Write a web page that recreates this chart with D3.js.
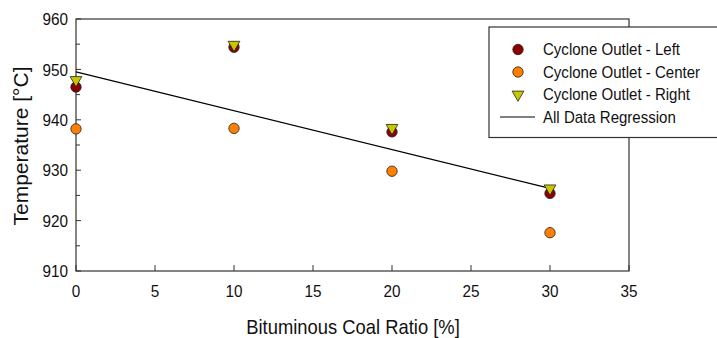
<!DOCTYPE html>
<html>
<head>
<meta charset="utf-8">
<script src="https://cdn.jsdelivr.net/npm/d3@7"></script>
<style>
  html, body { margin: 0; padding: 0; background: #fff; }
  svg { display: block; }
  text { font-family: "Liberation Sans", Arial, sans-serif; fill: #111; }
</style>
</head>
<body>
<svg id="chart" width="717" height="338"></svg>
<script>
const ratios = [0, 10, 20, 30];
const leftTemps = [946.5, 954.4, 937.6, 925.4];
const centerTemps = [938.2, 938.3, 929.8, 917.6];
const rightTemps = [947.9, 954.9, 938.4, 926.4];
const xTicks = [0, 5, 10, 15, 20, 25, 30, 35];
const yTicks = [910, 920, 930, 940, 950, 960];
const yMinorTicks = [915, 925, 935, 945, 955];
const seriesNames = ["Cyclone Outlet - Left", "Cyclone Outlet - Center", "Cyclone Outlet - Right"];
const regressionName = "All Data Regression";

const W = 717, H = 338;
const m = { left: 76, top: 19, right: 88, bottom: 67 };
const pw = W - m.left - m.right;  // 553
const ph = H - m.top - m.bottom;  // 252

const svg = d3.select("#chart");
const x = d3.scaleLinear().domain([0, 35]).range([m.left, m.left + pw]);
const y = d3.scaleLinear().domain([910, 960]).range([m.top + ph, m.top]);

const axisColor = "#333";

// frame
svg.append("rect")
  .attr("x", m.left).attr("y", m.top).attr("width", pw).attr("height", ph)
  .attr("fill", "none").attr("stroke", axisColor).attr("stroke-width", 1.2);

// y ticks (inward)
const gy = svg.append("g");
gy.selectAll("line.maj").data(yTicks).enter().append("line")
  .attr("x1", m.left).attr("x2", m.left + 5)
  .attr("y1", d => y(d)).attr("y2", d => y(d))
  .attr("stroke", axisColor);
gy.selectAll("line.min").data(yMinorTicks).enter().append("line")
  .attr("x1", m.left).attr("x2", m.left + 4)
  .attr("y1", d => y(d)).attr("y2", d => y(d))
  .attr("stroke", axisColor);
gy.selectAll("text").data(yTicks).enter().append("text")
  .attr("transform", d => `translate(${m.left - 8},${y(d)}) scale(0.9,1)`)
  .attr("dy", "0.36em")
  .attr("text-anchor", "end")
  .attr("font-size", 17)
  .text(d => d);

// x ticks (inward)
const gx = svg.append("g");
gx.selectAll("line").data(xTicks).enter().append("line")
  .attr("x1", d => x(d)).attr("x2", d => x(d))
  .attr("y1", m.top + ph).attr("y2", m.top + ph - 6)
  .attr("stroke", axisColor);
gx.selectAll("text").data(xTicks).enter().append("text")
  .attr("transform", d => `translate(${x(d)},297) scale(0.9,1)`)
  .attr("text-anchor", "middle")
  .attr("font-size", 17)
  .text(d => d);

// axis titles
svg.append("text")
  .attr("transform", "translate(353,334) scale(0.92,1)")
  .attr("text-anchor", "middle")
  .attr("font-size", 20)
  .text("Bituminous Coal Ratio [%]");

svg.append("text")
  .attr("transform", "translate(28,146) rotate(-90)")
  .attr("text-anchor", "middle")
  .attr("font-size", 21)
  .text("Temperature [°C]");

// regression over all data
const allPts = [];
ratios.forEach((r, i) => {
  allPts.push([r, leftTemps[i]], [r, centerTemps[i]], [r, rightTemps[i]]);
});
const mx = d3.mean(allPts, d => d[0]);
const my = d3.mean(allPts, d => d[1]);
const slope = d3.sum(allPts, d => (d[0] - mx) * (d[1] - my)) / d3.sum(allPts, d => (d[0] - mx) ** 2);
const intercept = my - slope * mx;
const xr = d3.extent(ratios);
svg.append("line")
  .attr("x1", x(xr[0])).attr("y1", y(intercept + slope * xr[0]))
  .attr("x2", x(xr[1])).attr("y2", y(intercept + slope * xr[1]))
  .attr("stroke", "#000").attr("stroke-width", 1.2);

const colors = ["#8B0000", "#FF8000", "#C8C800"];

// series markers
const gm = svg.append("g");
[leftTemps, centerTemps].forEach((vals, s) => {
  gm.selectAll(null).data(vals).enter().append("circle")
    .attr("cx", (d, i) => x(ratios[i])).attr("cy", d => y(d))
    .attr("r", 5.2)
    .attr("fill", colors[s]).attr("stroke", "#222").attr("stroke-width", 0.8);
});
const tri = d3.symbol(d3.symbolTriangle, 60);
gm.selectAll(null).data(rightTemps).enter().append("path")
  .attr("d", tri)
  .attr("transform", (d, i) => `translate(${x(ratios[i])},${y(d)}) rotate(180)`)
  .attr("fill", colors[2]).attr("stroke", "#222").attr("stroke-width", 0.8);

// legend
const lg = svg.append("g");
lg.append("rect")
  .attr("x", 489).attr("y", 27).attr("width", 240).attr("height", 110.5)
  .attr("fill", "#fff").attr("stroke", axisColor).attr("stroke-width", 1.2);
const rowY = [49.5, 72, 94.5, 117];
const mxL = 518, txL = 543;
lg.append("circle").attr("cx", mxL).attr("cy", rowY[0]).attr("r", 5.2)
  .attr("fill", colors[0]).attr("stroke", "#222").attr("stroke-width", 0.8);
lg.append("circle").attr("cx", mxL).attr("cy", rowY[1]).attr("r", 5.2)
  .attr("fill", colors[1]).attr("stroke", "#222").attr("stroke-width", 0.8);
lg.append("path").attr("d", tri)
  .attr("transform", `translate(${mxL},${rowY[2]}) rotate(180)`)
  .attr("fill", colors[2]).attr("stroke", "#222").attr("stroke-width", 0.8);
lg.append("line").attr("x1", 500).attr("x2", 535).attr("y1", rowY[3]).attr("y2", rowY[3])
  .attr("stroke", "#000").attr("stroke-width", 1);
const legendLabels = seriesNames.concat([regressionName]);
lg.selectAll("text").data(legendLabels).enter().append("text")
  .attr("transform", (d, i) => `translate(${txL},${rowY[i]}) scale(0.94,1)`)
  .attr("dy", "0.36em")
  .attr("font-size", 16)
  .text(d => d);
</script>
</body>
</html>
